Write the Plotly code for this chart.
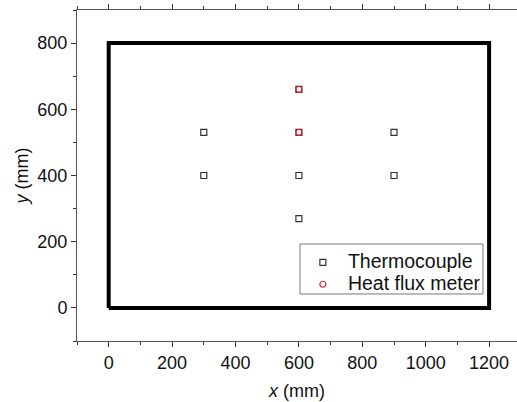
import plotly.graph_objects as go

# Sensor layout on the 1200 x 800 mm specimen (mm)
specimen_x = [0, 1200, 1200, 0, 0]
specimen_y = [0, 0, 800, 800, 0]

thermo_x = [300, 300, 600, 600, 600, 600, 900, 900]
thermo_y = [400, 530, 270, 400, 530, 660, 400, 530]

flux_x = [600, 600]
flux_y = [530, 660]

FONT = "Liberation Sans, Arial, sans-serif"
AXIS_COLOR = "#555555"


def legend_label(text):
    # larger glyphs while keeping the legend rows compact
    return f'<span style="font-size:19.5px">{text}</span>'


fig = go.Figure()

fig.add_trace(go.Scatter(
    x=specimen_x, y=specimen_y, mode="lines",
    line=dict(color="black", width=4),
    showlegend=False, hoverinfo="skip",
))

fig.add_trace(go.Scatter(
    x=thermo_x, y=thermo_y, mode="markers", name=legend_label("Thermocouple"),
    marker=dict(symbol="square-open", size=6, color="#333333",
                line=dict(width=1.2)),
))

fig.add_trace(go.Scatter(
    x=flux_x, y=flux_y, mode="markers", name=legend_label("Heat flux meter"),
    marker=dict(symbol="circle-open", size=6, color="#e8202a",
                line=dict(width=1.2)),
))

axis_common = dict(
    showgrid=False, zeroline=False,
    showline=True, linecolor=AXIS_COLOR, linewidth=1,
    ticks="outside", ticklen=5, tickwidth=1, tickcolor="#333333",
    tickfont=dict(family=FONT, size=18, color="#111111"),
    minor=dict(ticks="outside", ticklen=3, tickwidth=1,
               tickcolor="#333333", dtick=100),
)

fig.update_xaxes(
    **axis_common,
    range=[-100, 1288], dtick=200, tick0=0,
    mirror="ticks",
    title=dict(text="<i>x</i> (mm)", font=dict(family=FONT, size=18, color="#111111"),
               standoff=12),
)
fig.update_yaxes(
    **axis_common,
    range=[-100, 900], dtick=200, tick0=0,
    mirror=False,
    title=dict(text="<i>y</i> (mm)", font=dict(family=FONT, size=18, color="#111111"),
               standoff=4),
)

# legend frame
fig.add_shape(
    type="rect", xref="paper", yref="paper",
    x0=0.5068, x1=0.9227, y0=0.142, y1=0.293,
    line=dict(color="#777777", width=1), fillcolor="white", layer="above",
)

fig.update_layout(
    width=517, height=402,
    margin=dict(l=77, r=0, t=10, b=61),
    paper_bgcolor="white", plot_bgcolor="white",
    font=dict(family=FONT, size=18, color="#111111"),
    legend=dict(
        x=0.502, y=0.1225, xanchor="left", yanchor="bottom",
        bgcolor="rgba(0,0,0,0)", borderwidth=0,
        font=dict(family=FONT, size=14.5, color="#111111"),
        itemwidth=40, tracegroupgap=0,
    ),
)

fig.write_html("out.html")
